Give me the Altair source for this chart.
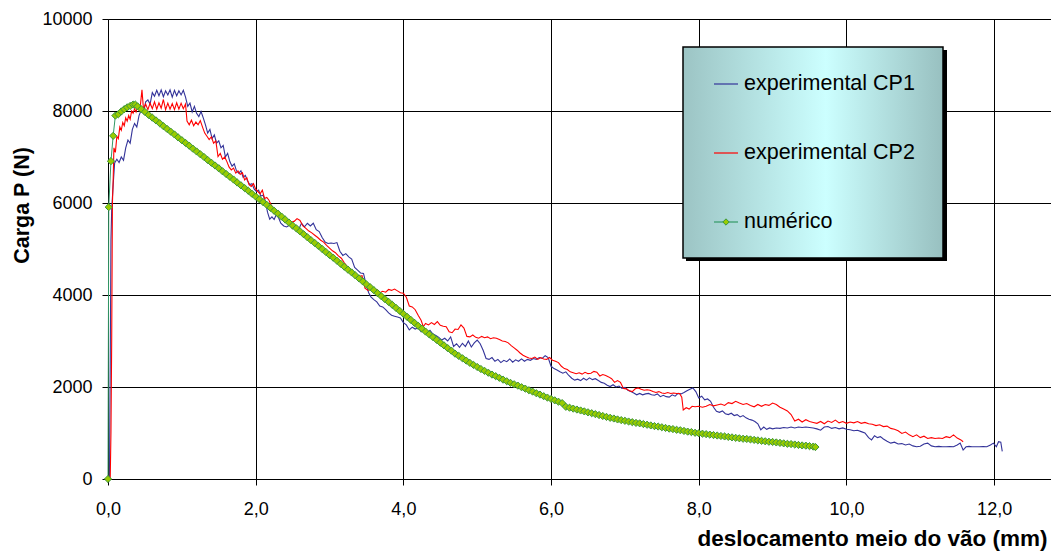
import altair as alt
import pandas as pd

FONT = "Liberation Sans"

x_ticks = [0, 2, 4, 6, 8, 10, 12]
y_ticks = [0, 2000, 4000, 6000, 8000, 10000]
x_title = "deslocamento meio do vão (mm)"
y_title = "Carga P (N)"
series_names = ["experimental CP1", "experimental CP2", "numérico"]

cp1_x = [
    0.00, 0.02, 0.03, 0.04, 0.05, 0.07, 0.09, 0.12, 0.15, 0.18,
    0.21, 0.24, 0.27, 0.30, 0.33, 0.36, 0.39, 0.42, 0.45, 0.48,
    0.51, 0.54, 0.57, 0.60, 0.63, 0.66, 0.69, 0.72, 0.75, 0.78,
    0.81, 0.84, 0.87, 0.90, 0.93, 0.96, 0.99, 1.02, 1.05, 1.08,
    1.11, 1.14, 1.17, 1.20, 1.23, 1.26, 1.29, 1.32, 1.35, 1.38,
    1.41, 1.44, 1.47, 1.50, 1.53, 1.56, 1.59, 1.62, 1.65, 1.68,
    1.71, 1.74, 1.77, 1.80, 1.83, 1.86, 1.89, 1.92, 1.95, 1.98,
    2.01, 2.04, 2.07, 2.10, 2.13, 2.16, 2.19, 2.22, 2.25, 2.28,
    2.31, 2.34, 2.38, 2.42, 2.46, 2.50, 2.54, 2.58, 2.62, 2.66,
    2.70, 2.74, 2.78, 2.82, 2.86, 2.90, 2.94, 2.98, 3.02, 3.06,
    3.10, 3.14, 3.18, 3.22, 3.26, 3.30, 3.34, 3.38, 3.42, 3.46,
    3.50, 3.53, 3.56, 3.60, 3.64, 3.68, 3.72, 3.76, 3.80, 3.84,
    3.88, 3.92, 3.96, 4.00, 4.04, 4.08, 4.12, 4.16, 4.20, 4.24,
    4.28, 4.32, 4.36, 4.40, 4.44, 4.48, 4.52, 4.56, 4.60, 4.64,
    4.68, 4.72, 4.76, 4.80, 4.84, 4.88, 4.92, 4.96, 5.00, 5.04,
    5.08, 5.12, 5.16, 5.20, 5.24, 5.28, 5.32, 5.36, 5.40, 5.44,
    5.48, 5.52, 5.56, 5.60, 5.64, 5.68, 5.72, 5.76, 5.80, 5.84,
    5.88, 5.92, 5.96, 6.00, 6.04, 6.08, 6.12, 6.16, 6.20, 6.24,
    6.28, 6.32, 6.36, 6.40, 6.44, 6.48, 6.52, 6.56, 6.60, 6.64,
    6.68, 6.72, 6.76, 6.80, 6.84, 6.88, 6.92, 6.96, 7.00, 7.04,
    7.08, 7.12, 7.16, 7.20, 7.24, 7.28, 7.32, 7.36, 7.40, 7.44,
    7.48, 7.52, 7.56, 7.60, 7.64, 7.68, 7.72, 7.76, 7.80, 7.84,
    7.88, 7.92, 7.96, 8.00, 8.04, 8.08, 8.12, 8.16, 8.20, 8.24,
    8.28, 8.32, 8.36, 8.40, 8.44, 8.48, 8.52, 8.56, 8.60, 8.64,
    8.68, 8.72, 8.76, 8.80, 8.84, 8.88, 8.92, 8.96, 9.00, 9.05,
    9.10, 9.15, 9.20, 9.25, 9.30, 9.35, 9.40, 9.45, 9.50, 9.55,
    9.60, 9.65, 9.70, 9.75, 9.80, 9.85, 9.90, 9.95, 10.00, 10.05,
    10.10, 10.15, 10.20, 10.25, 10.30, 10.34, 10.38, 10.42, 10.46, 10.50,
    10.55, 10.60, 10.65, 10.70, 10.75, 10.80, 10.85, 10.90, 10.95, 11.00,
    11.05, 11.10, 11.15, 11.20, 11.25, 11.30, 11.35, 11.40, 11.45, 11.50,
    11.54, 11.58, 11.62, 11.66, 11.70, 11.75, 11.80, 11.85, 11.90, 11.95,
    11.99, 12.03, 12.06, 12.09, 12.11,
]
cp1_y = [
    0, 0, 2500, 5200, 5850, 6400, 6870, 6950, 6880, 7000,
    6930, 7200, 7370, 7300, 7600, 7730, 7650, 7900, 8020, 7950,
    8200, 8240, 8150, 8400, 8320, 8450, 8330, 8460, 8310, 8440,
    8350, 8460, 8300, 8450, 8330, 8440, 8350, 8450, 8300, 8100,
    8170, 7980, 8100, 7950, 7880, 7990, 7850, 7700, 7520, 7600,
    7400, 7480, 7300, 7350, 7200, 7250, 7000, 7080, 6900, 6800,
    6850, 6700, 6650, 6700, 6560, 6600, 6480, 6400, 6420, 6300,
    6250, 6280, 6150, 6170, 6050, 5800, 5650, 5700, 5640, 5750,
    5680, 5560, 5500, 5480, 5520, 5440, 5480, 5420, 5560, 5480,
    5560, 5500, 5560, 5420, 5380, 5250, 5150, 5120, 5130, 5120,
    5140, 4950, 4860, 4900, 4830, 4780, 4600, 4540, 4480, 4470,
    4200, 4050, 3960, 3900, 3850, 3760, 3740, 3680, 3610, 3560,
    3540, 3520, 3500, 3400, 3350, 3240, 3300, 3260, 3290, 3200,
    3250, 3170, 3230, 3150, 3120, 3080, 3020, 3060, 3000, 3090,
    2880, 2940, 2860, 2950, 2880, 3000, 2870, 2960, 3020, 2940,
    2800, 2620, 2600, 2640, 2560, 2600, 2530, 2580, 2550, 2610,
    2540, 2590, 2560, 2610, 2560, 2600, 2580, 2620, 2600, 2640,
    2620, 2680, 2640, 2450, 2400, 2370, 2330, 2300, 2330, 2250,
    2190, 2150, 2170, 2140, 2190, 2150, 2200, 2160, 2180, 2140,
    2100, 2080, 2040, 2010, 2050, 2000, 2020, 1970, 1990, 1930,
    1900, 1870, 1830, 1860, 1830, 1850, 1860, 1830, 1820, 1850,
    1790, 1820, 1790, 1780, 1830, 1800, 1860, 1850, 1880, 1920,
    1950, 1980, 1900, 1760, 1800, 1720, 1740, 1690, 1560, 1470,
    1450, 1480, 1420, 1400, 1430, 1380, 1400, 1350, 1380, 1330,
    1300, 1280, 1250, 1200, 1070, 1130, 1080, 1110, 1090, 1110,
    1100, 1120, 1110, 1130, 1110, 1130, 1120, 1130, 1120, 1110,
    1090, 1060, 1130, 1140, 1100, 1120, 1090, 1110, 1080, 1070,
    1050, 1060, 1030, 1000, 900, 850, 940, 900, 920, 870,
    820, 780, 800, 760, 770, 740, 760, 720, 700, 710,
    760, 780, 720, 700, 710, 700, 700, 705, 700, 740,
    780, 630, 700, 710, 700, 700, 700, 705, 700, 740,
    780, 700, 810, 800, 600,
]

cp2_x = [
    0.00, 0.03, 0.04, 0.05, 0.06, 0.07, 0.08, 0.10, 0.12, 0.14,
    0.16, 0.18, 0.20, 0.22, 0.24, 0.26, 0.28, 0.30, 0.32, 0.34,
    0.36, 0.38, 0.40, 0.42, 0.44, 0.46, 0.48, 0.51, 0.54, 0.57,
    0.60, 0.63, 0.66, 0.69, 0.72, 0.75, 0.78, 0.81, 0.84, 0.87,
    0.90, 0.93, 0.96, 0.99, 1.02, 1.05, 1.07, 1.10, 1.13, 1.16,
    1.19, 1.22, 1.25, 1.28, 1.31, 1.34, 1.37, 1.40, 1.43, 1.46,
    1.49, 1.52, 1.55, 1.58, 1.61, 1.64, 1.67, 1.70, 1.73, 1.76,
    1.79, 1.82, 1.85, 1.88, 1.91, 1.94, 1.97, 2.00, 2.03, 2.06,
    2.09, 2.12, 2.15, 2.18, 2.21, 2.24, 2.27, 2.30, 2.33, 2.36,
    2.40, 2.44, 2.48, 2.52, 2.56, 2.60, 2.64, 2.68, 2.72, 2.76,
    2.80, 2.84, 2.88, 2.92, 2.96, 3.00, 3.04, 3.08, 3.12, 3.16,
    3.20, 3.24, 3.28, 3.32, 3.36, 3.40, 3.44, 3.48, 3.52, 3.56,
    3.60, 3.64, 3.68, 3.72, 3.76, 3.80, 3.84, 3.88, 3.92, 3.96,
    4.00, 4.04, 4.08, 4.12, 4.16, 4.20, 4.24, 4.27, 4.30, 4.34,
    4.38, 4.42, 4.46, 4.50, 4.54, 4.58, 4.62, 4.66, 4.70, 4.74,
    4.78, 4.82, 4.86, 4.90, 4.94, 4.98, 5.02, 5.06, 5.10, 5.14,
    5.18, 5.22, 5.26, 5.30, 5.34, 5.38, 5.42, 5.46, 5.50, 5.54,
    5.58, 5.62, 5.66, 5.70, 5.74, 5.78, 5.82, 5.86, 5.90, 5.94,
    5.98, 6.02, 6.06, 6.10, 6.14, 6.18, 6.22, 6.26, 6.30, 6.34,
    6.38, 6.42, 6.46, 6.50, 6.54, 6.58, 6.62, 6.66, 6.70, 6.74,
    6.78, 6.82, 6.86, 6.90, 6.94, 6.98, 7.02, 7.06, 7.10, 7.14,
    7.18, 7.22, 7.26, 7.30, 7.34, 7.38, 7.42, 7.46, 7.50, 7.54,
    7.58, 7.62, 7.66, 7.70, 7.74, 7.77, 7.79, 7.83, 7.87, 7.91,
    7.95, 8.00, 8.05, 8.10, 8.15, 8.20, 8.25, 8.30, 8.35, 8.40,
    8.45, 8.50, 8.55, 8.60, 8.65, 8.70, 8.75, 8.80, 8.85, 8.90,
    8.95, 9.00, 9.05, 9.10, 9.15, 9.20, 9.25, 9.30, 9.35, 9.40,
    9.45, 9.50, 9.55, 9.60, 9.65, 9.70, 9.75, 9.80, 9.85, 9.90,
    9.95, 10.00, 10.05, 10.10, 10.15, 10.20, 10.25, 10.30, 10.35, 10.40,
    10.45, 10.50, 10.55, 10.60, 10.65, 10.70, 10.75, 10.80, 10.85, 10.90,
    10.95, 11.00, 11.05, 11.10, 11.15, 11.20, 11.25, 11.30, 11.35, 11.40,
    11.45, 11.50, 11.55, 11.58,
]
cp2_y = [
    0, 0, 1000, 3000, 6000, 6500, 7200, 7100, 7450, 7400,
    7650, 7580, 7750, 7680, 7850, 7780, 7900, 7820, 8000, 7950,
    8050, 7980, 8100, 8030, 8150, 8460, 8050, 8150, 8030, 8170,
    8050, 8200, 8040, 8180, 8060, 8250, 8030, 8170, 8040, 8160,
    8030, 8180, 8040, 8170, 8050, 8150, 7780, 7700, 7800, 7680,
    7760, 7700, 7790, 7650, 7520, 7450, 7380, 7440, 7300, 7350,
    7010, 7080, 6950, 7000, 6900, 6780, 6720, 6760, 6650, 6700,
    6620, 6660, 6500, 6550, 6400, 6360, 6420, 6300, 6250, 6200,
    6280, 6100, 6120, 6060, 5950, 5880, 5850, 5780, 5740, 5700,
    5620, 5560, 5580, 5600, 5660, 5620, 5500, 5450, 5390, 5350,
    5300, 5250, 5190, 5150, 5080, 5020, 4960, 4920, 4850, 4800,
    4700, 4620, 4550, 4500, 4440, 4400, 4420, 4150, 4100, 4130,
    4080, 4120, 4050, 4080, 4060, 4120, 4100, 4130, 4090, 4050,
    4040, 3950, 3760, 3740, 3680, 3560, 3450, 3310, 3380, 3350,
    3400, 3360, 3420, 3340, 3320, 3310, 3200, 3180, 3260, 3250,
    3350, 3280, 3100, 3090, 3130, 3080, 3060, 3100, 3070, 3090,
    3050, 3070, 3060, 3030, 3000, 2990, 2960, 2900, 2850, 2800,
    2740, 2690, 2660, 2630, 2620, 2650, 2600, 2640, 2610, 2600,
    2640, 2580, 2560, 2530, 2450, 2400, 2380, 2330, 2310, 2290,
    2310, 2280, 2320, 2290, 2300, 2340, 2320, 2240, 2270, 2250,
    2220, 2180, 2100, 2140, 2100, 1970, 1960, 1920, 1900, 1960,
    1980, 1950, 1930, 1940, 1930, 1900, 1880, 1900, 1870, 1860,
    1880, 1860, 1870, 1860, 1860, 1780, 1500, 1550, 1520, 1580,
    1570, 1580, 1560, 1580, 1620, 1590, 1610, 1630, 1600, 1660,
    1640, 1690, 1650, 1620, 1640, 1600, 1570, 1620, 1580, 1620,
    1600, 1650, 1620, 1560, 1520, 1480, 1400, 1260, 1300, 1240,
    1290, 1250, 1230, 1210, 1250, 1200, 1260, 1230, 1280, 1220,
    1250, 1210, 1240, 1220, 1250, 1210, 1230, 1200, 1190, 1160,
    1180, 1140, 1150, 1100, 1080, 1050, 990, 1020, 960, 920,
    960, 900, 930, 880, 900, 880, 890, 880, 920, 900,
    960, 890, 850, 810,
]

num_x = [
    0.00, 0.01, 0.04, 0.07, 0.10, 0.14, 0.18, 0.22, 0.26, 0.30, 0.34, 0.37,
    0.40, 0.45, 0.50, 0.55, 0.60, 0.65, 0.70, 0.75, 0.80, 0.85,
    0.90, 0.95, 1.00, 1.05, 1.10, 1.15, 1.20, 1.25, 1.30, 1.35,
    1.40, 1.45, 1.50, 1.55, 1.60, 1.65, 1.70, 1.75, 1.80, 1.85,
    1.90, 1.95, 2.00, 2.05, 2.10, 2.15, 2.20, 2.25, 2.30, 2.35,
    2.40, 2.45, 2.50, 2.55, 2.60, 2.65, 2.70, 2.75, 2.80, 2.85,
    2.90, 2.95, 3.00, 3.05, 3.10, 3.15, 3.20, 3.25, 3.30, 3.35,
    3.40, 3.45, 3.50, 3.55, 3.60, 3.65, 3.70, 3.75, 3.80, 3.85,
    3.90, 3.95, 4.00, 4.05, 4.10, 4.15, 4.20, 4.25, 4.30, 4.35,
    4.40, 4.45, 4.50, 4.55, 4.60, 4.65, 4.70, 4.75, 4.80, 4.85,
    4.90, 4.95, 5.00, 5.05, 5.10, 5.15, 5.20, 5.25, 5.30, 5.35,
    5.40, 5.45, 5.50, 5.55, 5.60, 5.65, 5.70, 5.75, 5.80, 5.85,
    5.90, 5.95, 6.00, 6.05, 6.10, 6.15, 6.20, 6.25, 6.30, 6.35,
    6.40, 6.45, 6.50, 6.55, 6.60, 6.65, 6.70, 6.75, 6.80, 6.85,
    6.90, 6.95, 7.00, 7.05, 7.10, 7.15, 7.20, 7.25, 7.30, 7.35,
    7.40, 7.45, 7.50, 7.55, 7.60, 7.65, 7.70, 7.75, 7.80, 7.85,
    7.90, 7.95, 8.00, 8.05, 8.10, 8.15, 8.20, 8.25, 8.30, 8.35,
    8.40, 8.45, 8.50, 8.55, 8.60, 8.65, 8.70, 8.75, 8.80, 8.85,
    8.90, 8.95, 9.00, 9.05, 9.10, 9.15, 9.20, 9.25, 9.30, 9.35,
    9.40, 9.45, 9.50, 9.55, 9.58,
]
num_y = [
    0, 5910, 6910, 7460, 7900, 7930, 7990, 8040, 8080, 8110, 8140, 8140,
    8100, 8040, 7980, 7915, 7855, 7795, 7735, 7670, 7610, 7550,
    7490, 7425, 7365, 7305, 7245, 7180, 7120, 7060, 7000, 6935,
    6875, 6815, 6755, 6690, 6630, 6570, 6510, 6445, 6385, 6325,
    6265, 6200, 6140, 6080, 6020, 5960, 5895, 5830, 5770, 5705,
    5640, 5575, 5510, 5450, 5385, 5320, 5255, 5190, 5130, 5065,
    5000, 4935, 4870, 4810, 4745, 4680, 4615, 4550, 4490, 4425,
    4360, 4295, 4230, 4170, 4105, 4040, 3975, 3910, 3850, 3785,
    3720, 3655, 3590, 3525, 3460, 3395, 3330, 3270, 3205, 3145,
    3085, 3025, 2965, 2905, 2845, 2790, 2725, 2675, 2625, 2575,
    2525, 2480, 2435, 2390, 2350, 2310, 2270, 2235, 2200, 2160,
    2125, 2090, 2060, 2030, 1995, 1965, 1930, 1900, 1865, 1835,
    1800, 1770, 1740, 1710, 1680, 1650, 1570, 1550, 1530, 1510,
    1490, 1470, 1450, 1430, 1410, 1390, 1370, 1350, 1330, 1315,
    1295, 1280, 1265, 1250, 1235, 1220, 1210, 1195, 1180, 1165,
    1150, 1140, 1125, 1110, 1095, 1085, 1070, 1060, 1045, 1030,
    1020, 1005, 995, 985, 975, 965, 955, 945, 935, 925,
    915, 905, 895, 885, 875, 870, 860, 850, 840, 830,
    820, 810, 805, 795, 785, 775, 765, 760, 750, 740,
    730, 725, 715, 705, 695,
]

cp1 = pd.DataFrame({"x": cp1_x, "y": cp1_y})
cp2 = pd.DataFrame({"x": cp2_x, "y": cp2_y})
num = pd.DataFrame({"x": num_x, "y": num_y})
one = pd.DataFrame({"k": [0]})

x_enc = alt.X(
    "x:Q",
    scale=alt.Scale(domain=[0, 12.77], nice=False, zero=False),
    axis=alt.Axis(
        values=x_ticks,
        labelExpr="replace(format(datum.value, '.1f'), '.', ',')",
        title=x_title,
        grid=True, gridColor="#000000", gridWidth=1,
        domainColor="#000000", tickColor="#000000", tickSize=6,
        labelFont=FONT, labelFontSize=18, labelColor="#000000", labelPadding=15,
        labelFlush=False,
        titleFont=FONT, titleFontSize=22.5, titleFontWeight="bold", titleColor="#000000",
        titleAnchor="end", titleAlign="right", titleBaseline="alphabetic",
        titleX=939, titleY=66,
    ),
)
y_enc = alt.Y(
    "y:Q",
    scale=alt.Scale(domain=[0, 10000], nice=False),
    axis=alt.Axis(
        values=y_ticks, format="d",
        title=y_title,
        grid=True, gridColor="#000000", gridWidth=1,
        domainColor="#000000", tickColor="#000000", tickSize=6,
        labelFont=FONT, labelFontSize=18, labelColor="#000000", labelPadding=10,
        labelFlush=False,
        titleFont=FONT, titleFontSize=21.5, titleFontWeight="bold", titleColor="#000000",
        titleAlign="center", titleBaseline="alphabetic",
        titleX=-80, titleY=186,
    ),
)

l_cp1 = alt.Chart(cp1).mark_line(color="#333399", strokeWidth=1.1).encode(x=x_enc, y=y_enc)
l_cp2 = alt.Chart(cp2).mark_line(color="#ff0000", strokeWidth=1.1).encode(x=x_enc, y=y_enc)
l_num = alt.Chart(num).mark_line(color="#339966", strokeWidth=1).encode(x=x_enc, y=y_enc)
p_num = alt.Chart(num).mark_point(
    shape="diamond", filled=True, size=52, color="#99cc00",
    stroke="#3c963c", strokeWidth=1, opacity=1,
).encode(x=x_enc, y=y_enc)

grad = alt.LinearGradient(
    gradient="linear",
    stops=[
        alt.GradientStop(color="#9cc4c4", offset=0),
        alt.GradientStop(color="#ccffff", offset=0.55),
        alt.GradientStop(color="#98c0c0", offset=1),
    ],
    x1=0, x2=1, y1=0, y2=0,
)

leg_shadow = alt.Chart(one).mark_rect(color="#000000").encode(
    x=alt.value(578), x2=alt.value(839), y=alt.value(31), y2=alt.value(242)
)
leg_box = alt.Chart(one).mark_rect(fill=grad, stroke="#000000", strokeWidth=1.5).encode(
    x=alt.value(575), x2=alt.value(835), y=alt.value(28), y2=alt.value(239)
)
leg_l1 = alt.Chart(one).mark_rule(color="#333399", strokeWidth=1.2).encode(
    x=alt.value(606), x2=alt.value(630), y=alt.value(65)
)
leg_l2 = alt.Chart(one).mark_rule(color="#ff0000", strokeWidth=1.2).encode(
    x=alt.value(606), x2=alt.value(630), y=alt.value(134)
)
leg_l3 = alt.Chart(one).mark_rule(color="#339966", strokeWidth=1.2).encode(
    x=alt.value(606), x2=alt.value(630), y=alt.value(203)
)
leg_p3 = alt.Chart(one).mark_point(
    shape="diamond", filled=True, size=40, color="#99cc00",
    stroke="#3c963c", strokeWidth=1, opacity=1,
).encode(x=alt.value(618), y=alt.value(203))


def leg_text(label, y):
    return alt.Chart(one).mark_text(
        align="left", baseline="middle", font=FONT, fontSize=21.5, color="#000000"
    ).encode(x=alt.value(636), y=alt.value(y), text=alt.value(label))


chart = alt.layer(
    l_cp1, l_cp2, l_num, p_num,
    leg_shadow, leg_box, leg_l1, leg_l2, leg_l3, leg_p3,
    leg_text(series_names[0], 65),
    leg_text(series_names[1], 134),
    leg_text(series_names[2], 203),
).properties(
    width=943,
    height=460,
    autosize=alt.AutoSizeParams(type="none"),
    padding={"left": 100, "top": 11, "right": 0, "bottom": 73},
    background="white",
).configure_view(stroke=None)

chart.save("out.html", embed_options={"renderer": "svg", "actions": False})
